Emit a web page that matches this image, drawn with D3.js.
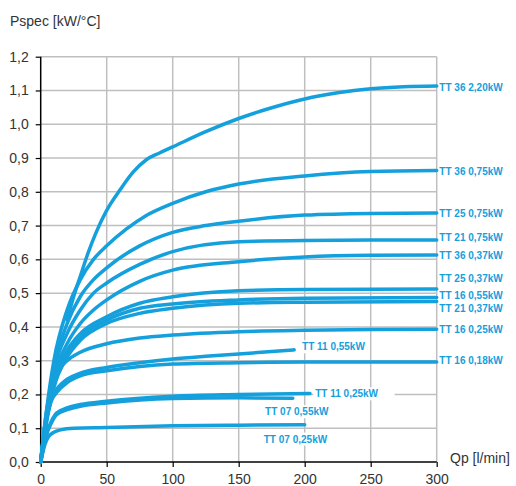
<!DOCTYPE html>
<html><head><meta charset="utf-8">
<script src="https://cdn.jsdelivr.net/npm/d3@7"></script>
<style>body{margin:0;background:#fff}svg{display:block}</style>
</head><body><svg id="c" width="516" height="486"></svg>
<script>
// ---- data ----
const xTicks = [0, 50, 100, 150, 200, 250, 300];
const yTicks = [0, 0.1, 0.2, 0.3, 0.4, 0.5, 0.6, 0.7, 0.8, 0.9, 1.0, 1.1, 1.2];
const yTitle = "Pspec [kW/°C]";
const xTitle = "Qp [l/min]";

const tt36_220 = [[20,0.42],[25,0.49],[30,0.55],[36,0.62],[42,0.68],[50,0.745],[60,0.805],[70,0.858],[80,0.895],[90,0.915],[100,0.933],[125,0.978],[150,1.017],[175,1.049],[200,1.075],[225,1.093],[250,1.105],[275,1.111],[300,1.113]];
const tt36_075 = [[0,0],[5,0.17],[10,0.3],[20,0.45],[30,0.54],[40,0.6],[50,0.64],[65,0.69],[80,0.73],[100,0.766],[125,0.8],[150,0.823],[200,0.847],[250,0.86],[300,0.863]];
const tt25_075 = [[0,0],[5,0.16],[10,0.28],[20,0.41],[30,0.49],[40,0.54],[50,0.575],[75,0.64],[100,0.68],[125,0.7],[150,0.713],[200,0.731],[250,0.736],[300,0.737]];
const tt21_075 = [[0,0],[5,0.15],[10,0.27],[20,0.38],[30,0.45],[40,0.5],[50,0.53],[75,0.585],[100,0.623],[150,0.652],[200,0.656],[250,0.657],[300,0.657]];
const tt36_037 = [[0,0],[5,0.14],[10,0.25],[20,0.35],[30,0.41],[40,0.45],[50,0.48],[75,0.535],[100,0.568],[150,0.593],[200,0.607],[250,0.612],[300,0.613]];
const tt25_037 = [[0,0],[5,0.14],[10,0.24],[20,0.33],[30,0.38],[50,0.43],[75,0.47],[100,0.489],[150,0.507],[200,0.511],[300,0.512]];
const tt16_055 = [[0,0],[5,0.14],[10,0.23],[20,0.32],[30,0.37],[50,0.42],[75,0.455],[100,0.468],[150,0.48],[200,0.485],[300,0.487]];
const tt21_037 = [[0,0],[5,0.13],[10,0.22],[20,0.31],[30,0.36],[50,0.41],[75,0.44],[100,0.455],[150,0.47],[200,0.473],[300,0.475]];
const tt16_025 = [[0,0],[4,0.14],[8,0.22],[13,0.27],[20,0.3],[30,0.325],[50,0.35],[75,0.367],[100,0.376],[150,0.386],[200,0.39],[250,0.392],[300,0.393]];
const tt11_055 = [[0,0],[4,0.13],[8,0.19],[13,0.22],[20,0.245],[30,0.263],[50,0.28],[75,0.294],[100,0.305],[125,0.313],[150,0.32],[175,0.327],[192,0.332]];
const tt16_018 = [[0,0],[4,0.12],[8,0.18],[13,0.21],[20,0.235],[30,0.255],[50,0.27],[75,0.283],[100,0.29],[150,0.294],[200,0.296],[250,0.296],[300,0.296]];
const tt11_025 = [[0,0],[4,0.08],[8,0.12],[12,0.145],[20,0.16],[30,0.17],[50,0.18],[100,0.195],[150,0.2],[204,0.203]];
const tt07_055 = [[0,0],[4,0.075],[8,0.115],[12,0.14],[20,0.155],[30,0.165],[50,0.175],[100,0.188],[150,0.19],[191,0.189]];
const tt07_025 = [[0,0],[3,0.05],[6,0.075],[10,0.088],[15,0.095],[25,0.1],[50,0.102],[100,0.107],[150,0.109],[200,0.11]];

const seriesNames = ["TT 36 2,20kW","TT 36 0,75kW","TT 25 0,75kW","TT 21 0,75kW","TT 36 0,37kW","TT 25 0,37kW","TT 16 0,55kW","TT 21 0,37kW","TT 16 0,25kW","TT 11 0,55kW","TT 16 0,18kW","TT 11 0,25kW","TT 07 0,55kW","TT 07 0,25kW"];
const seriesData = [tt36_220,tt36_075,tt25_075,tt21_075,tt36_037,tt25_037,tt16_055,tt21_037,tt16_025,tt11_055,tt16_018,tt11_025,tt07_055,tt07_025];
// label anchor (data coords) for each series
const labelX = [302,302,302,302,302,302,302,302,302,198,302,208,170,169];
const labelY = [1.11,0.86,0.735,0.665,0.611,0.542,0.492,0.453,0.393,0.341,0.301,0.202,0.149,0.068];

// ---- chart ----
const svg = d3.select("#c");
const x = d3.scaleLinear().domain([0,300]).range([40.7,436.7]);
const y = d3.scaleLinear().domain([0,1.2]).range([462,56.7]);
const blue = "#14a0dc";

const g = svg.append("g");
// grid
g.selectAll(".gx").data(xTicks.slice(1)).join("line")
  .attr("x1",d=>x(d)).attr("x2",d=>x(d)).attr("y1",y(0)).attr("y2",y(1.2))
  .attr("stroke","#bfbfbf").attr("stroke-width",1.5);
g.selectAll(".gy").data(yTicks.slice(1)).join("line")
  .attr("x1",x(0)).attr("x2",x(300)).attr("y1",d=>y(d)).attr("y2",d=>y(d))
  .attr("stroke","#bfbfbf").attr("stroke-width",1.5);

// axes
const ax = svg.append("g").attr("transform",`translate(0,${y(0)})`)
  .call(d3.axisBottom(x).tickValues(xTicks).tickSize(5).tickPadding(7).tickFormat(d3.format("d")));
const ay = svg.append("g").attr("transform",`translate(${x(0)},0)`)
  .call(d3.axisLeft(y).tickValues(yTicks).tickSize(5).tickPadding(7).tickFormat(d=>d3.format(".1f")(d).replace(".",",")));
[ax,ay].forEach(a=>{
  a.select(".domain").attr("stroke","#000").attr("stroke-width",1.5);
  a.selectAll(".tick line").attr("stroke","#000").attr("stroke-width",1.2);
  a.selectAll("text").attr("font-family","Liberation Sans, Arial, sans-serif").attr("font-size",14).attr("fill","#333");
});
ax.select(".domain").attr("d",`M${x(0)},0H${x(300)}`);
ay.select(".domain").attr("d",`M0,${y(0)}V${y(1.2)}`);

// lines
const line = d3.line().x(d=>x(d[0])).y(d=>y(d[1])).curve(d3.curveMonotoneX);
svg.append("g").selectAll("path").data(seriesData).join("path")
  .attr("d",line).attr("fill","none").attr("stroke",blue)
  .attr("stroke-width",3.5).attr("stroke-linecap","round");

// labels
const lab = svg.append("g").attr("font-family","Liberation Sans, Arial, sans-serif")
  .attr("font-size",10).attr("font-weight","bold").attr("fill",blue);
seriesNames.forEach((n,i)=>{
  const inside = labelX[i] < 300;
  const t = lab.append("text").attr("x",x(labelX[i])).attr("y",y(labelY[i]))
    .attr("dominant-baseline","central").text(n);
  if(inside){
    const bb = t.node().getBBox();
    const padR = (i===11) ? 16 : 2;
    lab.insert("rect","text").attr("x",bb.x-2).attr("y",bb.y-1).attr("width",bb.width+2+padR).attr("height",bb.height+2).attr("fill","#fff");
  }
});
lab.selectAll("rect").lower();

// titles
svg.append("text").attr("x",10).attr("y",26).attr("font-family","Liberation Sans, Arial, sans-serif")
  .attr("font-size",14).attr("fill","#333").text(yTitle);
svg.append("text").attr("x",450).attr("y",463).attr("font-family","Liberation Sans, Arial, sans-serif")
  .attr("font-size",14).attr("fill","#333").text(xTitle);
</script></body></html>
